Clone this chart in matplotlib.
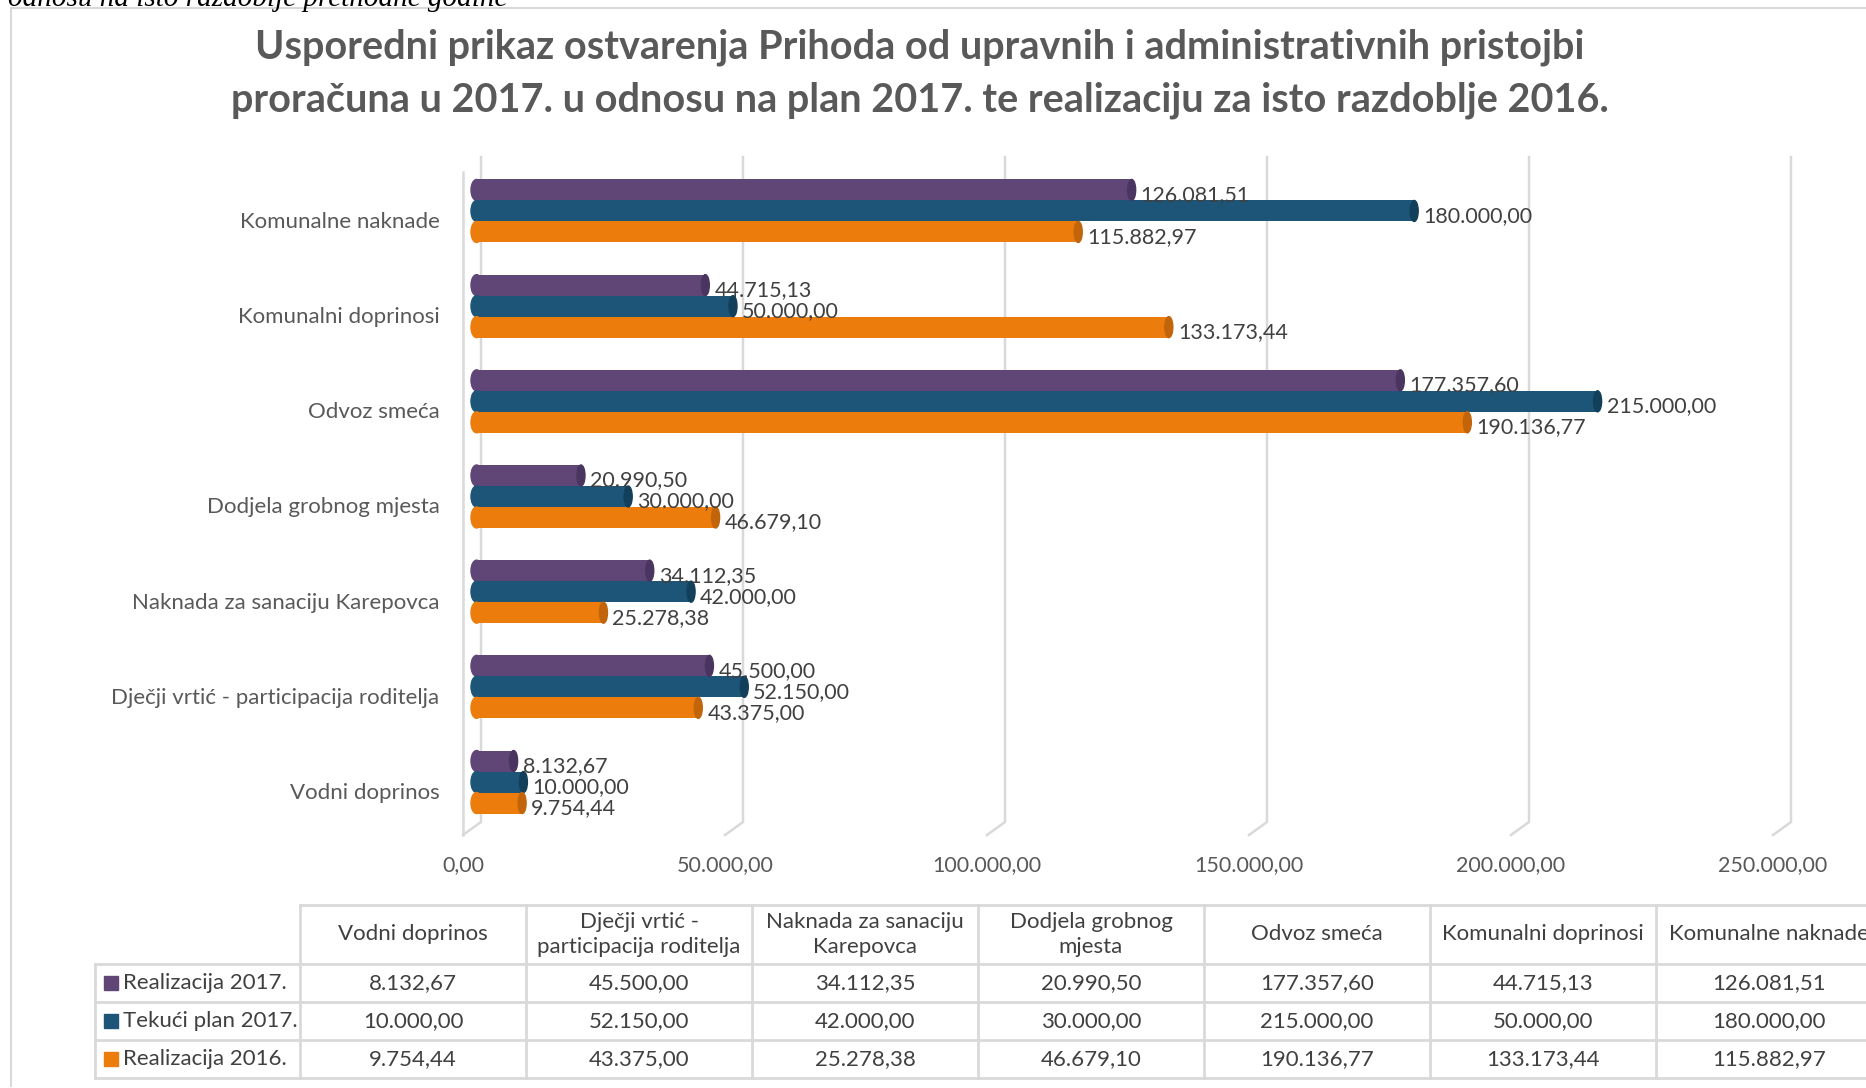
import matplotlib
matplotlib.use("Agg")
import matplotlib.pyplot as plt
import matplotlib.transforms as mtransforms
from matplotlib.patches import Ellipse
from matplotlib.lines import Line2D

plt.rcParams['font.family'] = ['Lato', 'DejaVu Sans']

# data (chart order from bottom to top)
categories = ['Vodni doprinos', 'Dječji vrtić - participacija roditelja',
              'Naknada za sanaciju Karepovca', 'Dodjela grobnog mjesta',
              'Odvoz smeća', 'Komunalni doprinosi', 'Komunalne naknade']
table_headers = ['Vodni doprinos', 'Dječji vrtić -\nparticipacija roditelja',
                 'Naknada za sanaciju\nKarepovca', 'Dodjela grobnog\nmjesta',
                 'Odvoz smeća', 'Komunalni doprinosi', 'Komunalne naknade']
series_names = ['Realizacija 2017.', 'Tekući plan 2017.', 'Realizacija 2016.']
real_2017 = [8132.67, 45500.00, 34112.35, 20990.50, 177357.60, 44715.13, 126081.51]
plan_2017 = [10000.00, 52150.00, 42000.00, 30000.00, 215000.00, 50000.00, 180000.00]
real_2016 = [9754.44, 43375.00, 25278.38, 46679.10, 190136.77, 133173.44, 115882.97]
x_ticks = [0, 50000, 100000, 150000, 200000, 250000]

colors = ['#5F4676', '#1C5577', '#EC7C0B']
cap_colors = ['#4A3560', '#123F5A', '#C2640A']
text_col = '#404040'
grid_col = '#D9D9D9'

W, H = 1866, 1088


def fx(x):
    return x / W


def fy(y):
    return 1 - y / H


def fmt(v):
    s = f"{v:,.2f}"
    return s.replace(",", "X").replace(".", ",").replace("X", ".")


fig = plt.figure(figsize=(W / 100, H / 100), dpi=100)

# frame and cut-off line of text above it
fig.add_artist(Line2D([fx(11), fx(11)], [fy(8), fy(1086)], color=grid_col, lw=1.5))
fig.add_artist(Line2D([fx(11), 1], [fy(8), fy(8)], color=grid_col, lw=1.5))
fig.text(fx(8), fy(6), 'odnosu na isto razdoblje prethodne godine', family='Liberation Serif',
         style='italic', fontsize=21, color='black', ha='left', va='baseline')

fig.text(fx(920), fy(47), 'Usporedni prikaz ostvarenja Prihoda od upravnih i administrativnih pristojbi',
         ha='center', va='center', fontsize=28.5, fontweight='bold', color='#595959')
fig.text(fx(920), fy(100), 'proračuna u 2017. u odnosu na plan 2017. te realizaciju za isto razdoblje 2016.',
         ha='center', va='center', fontsize=28.5, fontweight='bold', color='#595959')

# plot area
ax_l, ax_r, ax_t, ax_b = 463, 1810, 157, 822
ax = fig.add_axes([fx(ax_l), fy(ax_b), fx(ax_r - ax_l), (ax_b - ax_t) / H])
ppu = 262 / 50000  # pixels per data unit
xmin = -(471 - ax_l) / ppu
ax.set_xlim(xmin, xmin + (ax_r - ax_l) / ppu)
ymin, ymax = -0.42, 6.567
ax.set_ylim(ymin, ymax)
for s in ax.spines.values():
    s.set_visible(False)

ypx = (ax_b - ax_t) / (ymax - ymin)
back_off = 10 / ppu
front_off = -8 / ppu
slant = 13 / ypx

for t in x_ticks:
    ax.plot([t + back_off, t + back_off, t + front_off], [ymax, ymin, ymin - slant],
            color=grid_col, lw=1.8, clip_on=False, zorder=0)
ax.plot([xmin, xmin], [ymax - 15 / ypx, ymin - slant], color=grid_col, lw=1.8,
        clip_on=False, zorder=0)

bh = 21 / ypx
cap_w = 8 / ppu
start = cap_w * 0.7
series = [real_2017, plan_2017, real_2016]
offsets = [bh, 0, -bh]
ypos = list(range(len(categories)))
for k, vals in enumerate(series):
    ys = [y + offsets[k] for y in ypos]
    ax.barh(ys, [v - start for v in vals], left=start, height=bh, color=colors[k], zorder=2)
    for y, v in zip(ys, vals):
        ax.add_patch(Ellipse((start, y), cap_w * 1.4, bh, color=colors[k], zorder=2))
        ax.add_patch(Ellipse((v, y), cap_w, bh, color=cap_colors[k], zorder=3))
        ax.text(v + cap_w * 0.5 + 5 / ppu, y - 5 / ypx, fmt(v), ha='left', va='center',
                fontsize=15.5, color=text_col, zorder=4)

ax.set_xticks(x_ticks)
ax.set_xticklabels([fmt(t) for t in x_ticks], fontsize=15.5, color='#595959')
ax.set_yticks(ypos)
ax.set_yticklabels(categories, fontsize=16, color='#595959')
ax.tick_params(axis='x', length=0, pad=24)
ax.tick_params(axis='y', length=0, pad=17)
for lab in ax.get_xticklabels():
    lab.set_transform(lab.get_transform() + mtransforms.ScaledTranslation(-0.08, 0, fig.dpi_scale_trans))
for lab in ax.get_yticklabels():
    lab.set_transform(lab.get_transform() + mtransforms.ScaledTranslation(0, -0.09, fig.dpi_scale_trans))

# data table below the chart
col_x0, col_w = 300, 226
label_x0 = 95
rows_y = [905, 964, 1002, 1040, 1078]
n_cols = len(table_headers)
right_edge = col_x0 + n_cols * col_w
line_kw = dict(color=grid_col, lw=2)

fig.add_artist(Line2D([fx(col_x0), fx(right_edge)], [fy(rows_y[0])] * 2, **line_kw))
for y in rows_y[1:]:
    fig.add_artist(Line2D([fx(label_x0), fx(right_edge)], [fy(y)] * 2, **line_kw))
fig.add_artist(Line2D([fx(label_x0)] * 2, [fy(rows_y[1]), fy(rows_y[-1])], **line_kw))
for c in range(n_cols + 1):
    x = col_x0 + c * col_w
    fig.add_artist(Line2D([fx(x)] * 2, [fy(rows_y[0]), fy(rows_y[-1])], **line_kw))

for c, head in enumerate(table_headers):
    cx = col_x0 + c * col_w + col_w / 2
    fig.text(fx(cx), fy((rows_y[0] + rows_y[1]) / 2), head, ha='center', va='center',
             fontsize=16, color=text_col, linespacing=1.3)

for r, (name, vals) in enumerate(zip(series_names, series)):
    cy = (rows_y[r + 1] + rows_y[r + 2]) / 2
    sq = 14
    fig.add_artist(plt.Rectangle((fx(104), fy(cy + sq / 2)), sq / W, sq / H,
                                 color=colors[r], transform=fig.transFigure))
    fig.text(fx(123), fy(cy), name, ha='left', va='center', fontsize=16, color=text_col)
    for c, v in enumerate(vals):
        cx = col_x0 + c * col_w + col_w / 2
        fig.text(fx(cx), fy(cy), fmt(v), ha='center', va='center', fontsize=16, color=text_col)

fig.savefig('out.png', dpi=100)
